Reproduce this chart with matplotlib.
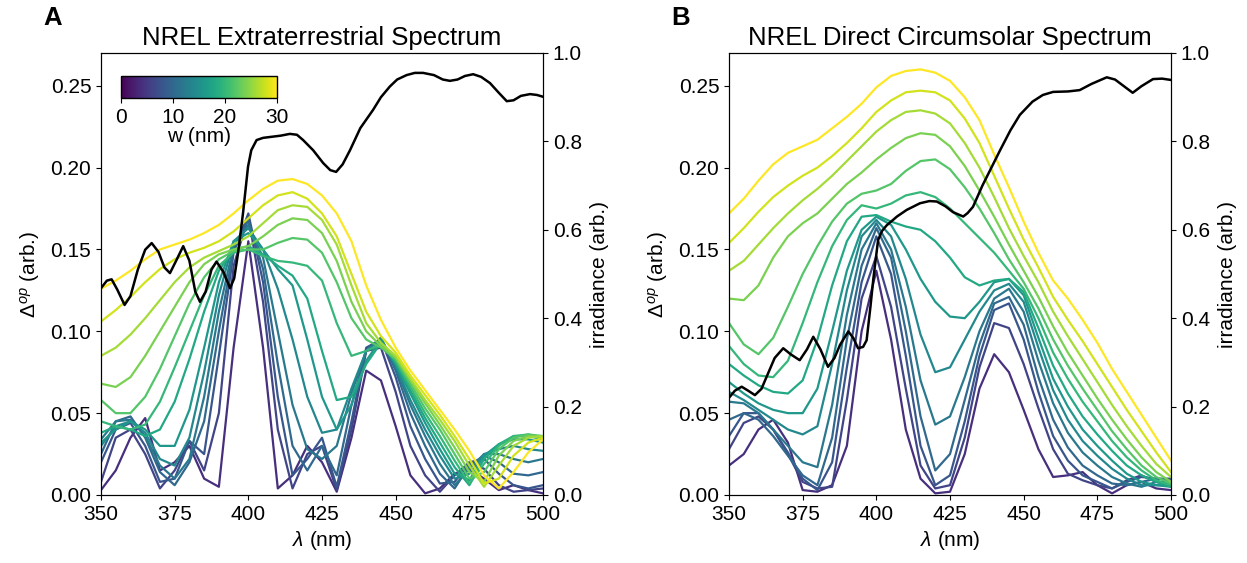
import matplotlib
matplotlib.use('Agg')
import matplotlib.pyplot as plt
from matplotlib import cm, colors
from matplotlib.ticker import FormatStrFormatter

plt.rcParams['font.family'] = ['Liberation Sans', 'DejaVu Sans']
plt.rcParams['mathtext.fontset'] = 'custom'
plt.rcParams['mathtext.rm'] = 'Liberation Sans'
plt.rcParams['mathtext.it'] = 'Liberation Sans:italic'
plt.rcParams['font.size'] = 15

# ---------------- data ----------------
wavelength = [350, 355, 360, 365, 370, 375, 380, 385, 390, 395, 400, 405, 410, 415, 420,
              425, 430, 435, 440, 445, 450, 455, 460, 465, 470, 475, 480, 485, 490, 495, 500]
widths = [4, 6, 8, 10, 12, 14, 16, 18, 20, 22, 24, 26, 28, 30]

# Panel A: NREL Extraterrestrial
A4 = [0.003,0.015,0.035,0.047,0.015,0.020,0.030,0.010,0.005,0.090,0.155,0.090,0.004,0.012,0.030,0.020,0.002,0.035,0.076,0.070,0.042,0.012,0.001,0.004,0.013,0.016,0.010,0.003,0.006,0.003,0.001]
A6 = [0.008,0.035,0.040,0.025,0.004,0.015,0.033,0.015,0.050,0.140,0.170,0.118,0.040,0.004,0.025,0.030,0.003,0.040,0.088,0.090,0.063,0.030,0.012,0.002,0.012,0.020,0.016,0.006,0.002,0.003,0.004]
A8 = [0.020,0.040,0.044,0.030,0.008,0.010,0.033,0.025,0.085,0.148,0.172,0.130,0.060,0.012,0.022,0.035,0.005,0.045,0.090,0.095,0.072,0.042,0.022,0.007,0.008,0.020,0.022,0.013,0.006,0.004,0.006]
A10 = [0.025,0.045,0.048,0.035,0.014,0.006,0.020,0.045,0.100,0.150,0.168,0.138,0.080,0.030,0.015,0.030,0.012,0.055,0.088,0.096,0.076,0.050,0.030,0.013,0.004,0.018,0.024,0.020,0.013,0.012,0.014]
A12 = [0.034,0.045,0.046,0.036,0.018,0.010,0.022,0.060,0.112,0.152,0.165,0.145,0.100,0.055,0.028,0.022,0.030,0.062,0.088,0.096,0.078,0.055,0.036,0.019,0.006,0.016,0.025,0.025,0.022,0.020,0.022]
A14 = [0.030,0.042,0.045,0.038,0.022,0.018,0.035,0.075,0.122,0.155,0.163,0.150,0.126,0.095,0.060,0.038,0.040,0.065,0.088,0.095,0.079,0.058,0.040,0.024,0.010,0.013,0.025,0.028,0.030,0.028,0.027]
A16 = [0.032,0.040,0.045,0.040,0.030,0.030,0.052,0.090,0.130,0.155,0.160,0.150,0.138,0.128,0.095,0.060,0.040,0.055,0.082,0.095,0.080,0.062,0.044,0.028,0.013,0.009,0.024,0.031,0.034,0.034,0.032]
A18 = [0.038,0.042,0.040,0.036,0.040,0.057,0.083,0.112,0.137,0.150,0.152,0.147,0.140,0.134,0.120,0.088,0.058,0.060,0.080,0.093,0.081,0.064,0.047,0.032,0.017,0.006,0.022,0.031,0.036,0.036,0.034]
A20 = [0.045,0.042,0.040,0.043,0.057,0.078,0.100,0.122,0.140,0.148,0.150,0.146,0.143,0.142,0.140,0.131,0.105,0.085,0.088,0.092,0.082,0.066,0.050,0.036,0.021,0.007,0.019,0.030,0.036,0.037,0.035]
A22 = [0.058,0.050,0.050,0.060,0.077,0.097,0.117,0.133,0.144,0.149,0.150,0.150,0.154,0.157,0.156,0.148,0.130,0.108,0.095,0.090,0.083,0.068,0.053,0.040,0.025,0.010,0.014,0.028,0.035,0.037,0.036]
A24 = [0.068,0.066,0.072,0.085,0.100,0.115,0.130,0.141,0.147,0.150,0.152,0.158,0.165,0.169,0.168,0.160,0.143,0.118,0.100,0.091,0.084,0.070,0.056,0.043,0.029,0.014,0.008,0.024,0.033,0.036,0.036]
A26 = [0.085,0.090,0.098,0.108,0.119,0.130,0.139,0.145,0.149,0.153,0.158,0.166,0.174,0.177,0.176,0.168,0.153,0.128,0.105,0.093,0.085,0.071,0.058,0.046,0.033,0.018,0.005,0.018,0.030,0.035,0.036]
A28 = [0.106,0.113,0.121,0.130,0.138,0.144,0.148,0.151,0.155,0.161,0.169,0.177,0.183,0.185,0.181,0.172,0.158,0.135,0.112,0.097,0.087,0.073,0.061,0.049,0.036,0.022,0.007,0.010,0.024,0.032,0.035]
A30 = [0.126,0.131,0.137,0.144,0.150,0.153,0.156,0.160,0.165,0.172,0.180,0.187,0.192,0.193,0.190,0.183,0.172,0.155,0.128,0.107,0.090,0.076,0.064,0.052,0.040,0.027,0.012,0.004,0.014,0.026,0.034]

# Panel B: NREL Direct Circumsolar
B4 = [0.018,0.025,0.040,0.046,0.032,0.003,0.002,0.006,0.030,0.100,0.137,0.095,0.040,0.010,0.001,0.002,0.025,0.065,0.086,0.075,0.052,0.028,0.011,0.012,0.014,0.006,0.001,0.006,0.008,0.004,0.003]
B6 = [0.028,0.044,0.048,0.040,0.025,0.008,0.004,0.005,0.058,0.120,0.146,0.115,0.065,0.018,0.004,0.006,0.035,0.078,0.105,0.102,0.080,0.053,0.028,0.013,0.009,0.006,0.004,0.009,0.012,0.008,0.006]
B8 = [0.036,0.050,0.050,0.040,0.026,0.010,0.003,0.020,0.078,0.130,0.158,0.135,0.085,0.030,0.006,0.012,0.045,0.085,0.113,0.117,0.095,0.063,0.036,0.021,0.012,0.008,0.004,0.008,0.011,0.010,0.010]
B10 = [0.046,0.050,0.046,0.036,0.024,0.012,0.006,0.035,0.095,0.140,0.163,0.145,0.100,0.048,0.015,0.025,0.058,0.092,0.117,0.121,0.104,0.072,0.046,0.029,0.018,0.012,0.007,0.006,0.008,0.010,0.009]
B12 = [0.057,0.056,0.050,0.040,0.030,0.020,0.017,0.055,0.110,0.150,0.166,0.150,0.115,0.070,0.043,0.048,0.072,0.100,0.120,0.126,0.112,0.082,0.056,0.038,0.026,0.018,0.011,0.007,0.005,0.008,0.008]
B14 = [0.063,0.058,0.052,0.046,0.040,0.037,0.042,0.080,0.125,0.158,0.168,0.158,0.132,0.098,0.075,0.078,0.095,0.112,0.125,0.129,0.118,0.090,0.064,0.046,0.033,0.024,0.016,0.010,0.006,0.006,0.006]
B16 = [0.069,0.062,0.056,0.052,0.050,0.050,0.065,0.100,0.137,0.162,0.170,0.165,0.150,0.132,0.118,0.109,0.108,0.118,0.130,0.132,0.122,0.096,0.071,0.054,0.040,0.030,0.021,0.013,0.008,0.006,0.005]
B18 = [0.080,0.073,0.067,0.063,0.062,0.070,0.095,0.128,0.155,0.170,0.171,0.167,0.164,0.162,0.155,0.145,0.133,0.128,0.131,0.132,0.124,0.102,0.079,0.062,0.048,0.037,0.027,0.018,0.012,0.008,0.005]
B20 = [0.091,0.080,0.073,0.072,0.082,0.105,0.130,0.152,0.168,0.177,0.175,0.178,0.183,0.185,0.182,0.175,0.166,0.157,0.148,0.137,0.126,0.108,0.087,0.071,0.057,0.045,0.033,0.023,0.015,0.009,0.006]
B22 = [0.105,0.092,0.086,0.096,0.115,0.135,0.152,0.167,0.178,0.184,0.186,0.190,0.198,0.204,0.205,0.199,0.188,0.175,0.160,0.144,0.130,0.114,0.095,0.079,0.065,0.052,0.039,0.028,0.018,0.011,0.007]
B24 = [0.120,0.119,0.128,0.145,0.158,0.166,0.172,0.181,0.190,0.197,0.205,0.212,0.218,0.221,0.220,0.213,0.201,0.186,0.170,0.153,0.137,0.121,0.103,0.087,0.073,0.059,0.046,0.034,0.023,0.014,0.008]
B26 = [0.137,0.143,0.153,0.163,0.172,0.180,0.187,0.195,0.204,0.213,0.222,0.229,0.234,0.235,0.233,0.227,0.215,0.200,0.182,0.163,0.146,0.130,0.112,0.097,0.083,0.069,0.055,0.042,0.030,0.019,0.011]
B28 = [0.154,0.163,0.173,0.182,0.189,0.195,0.200,0.207,0.215,0.224,0.234,0.241,0.246,0.247,0.246,0.241,0.230,0.215,0.195,0.175,0.156,0.139,0.121,0.107,0.094,0.080,0.066,0.052,0.039,0.026,0.014]
B30 = [0.172,0.181,0.192,0.202,0.209,0.213,0.217,0.224,0.231,0.239,0.249,0.256,0.259,0.260,0.258,0.253,0.243,0.229,0.208,0.188,0.167,0.148,0.131,0.120,0.107,0.093,0.077,0.063,0.049,0.035,0.021]

# irradiance spectra (black lines)
irrA_wl = [350, 352, 353.6, 355.5, 358, 360, 362.5, 365, 367.2, 369.5, 371.5, 373.4, 375.5,
           377.9, 380, 382, 383.6, 385.5, 387.5, 389.2, 391.5, 393.8, 395.2, 396.5, 398.2,
           399.9, 401, 402.8, 405, 407.4, 411, 414.1, 416.5, 418.6, 422, 425.4, 427.8, 429.8,
           432, 434.5, 438, 442.3, 445, 448, 450.5, 453.7, 456.5, 459.3, 463, 466, 468.4,
           471, 473.5, 476.3, 479, 482, 485, 487.7, 490, 492.5, 495.6, 498, 500]
irrA = [0.468, 0.485, 0.488, 0.465, 0.43, 0.45, 0.51, 0.555, 0.57, 0.55, 0.515, 0.502, 0.53,
        0.563, 0.53, 0.46, 0.437, 0.46, 0.51, 0.528, 0.505, 0.468, 0.49, 0.547, 0.638,
        0.743, 0.78, 0.803, 0.808, 0.81, 0.813, 0.817, 0.815, 0.803, 0.78, 0.751, 0.735, 0.731,
        0.748, 0.78, 0.83, 0.871, 0.9, 0.924, 0.94, 0.95, 0.955, 0.955, 0.95, 0.94, 0.937,
        0.94, 0.948, 0.952, 0.946, 0.932, 0.91, 0.891, 0.893, 0.903, 0.907, 0.905, 0.901]
irrB_wl = [350, 352, 354.3, 356.5, 358.8, 361, 362.8, 365.5, 368.4, 371, 374, 376.5, 378.6,
           381, 383.6, 385.8, 387.7, 390.5, 392.2, 393.8, 395.5, 396.7, 398, 399, 400.6, 402,
           403.5, 407, 410.3, 414.8, 418, 420.5, 423.5, 426, 429.5, 431, 432.8, 436, 439, 442,
           445.5, 448.7, 453, 456.5, 460, 465, 469, 473, 478.2, 481, 484, 487, 490, 493.9,
           497, 500]
irrB = [0.22, 0.236, 0.245, 0.236, 0.226, 0.24, 0.268, 0.31, 0.332, 0.318, 0.305, 0.33, 0.358,
        0.33, 0.29, 0.31, 0.34, 0.37, 0.355, 0.332, 0.335, 0.35, 0.426, 0.49, 0.577, 0.598,
        0.61, 0.63, 0.645, 0.66, 0.665, 0.664, 0.653, 0.64, 0.63, 0.638, 0.652, 0.70, 0.74, 0.78,
        0.825, 0.86, 0.89, 0.905, 0.912, 0.913, 0.916, 0.93, 0.945, 0.94, 0.925, 0.91, 0.925,
        0.941, 0.942, 0.939]

curvesA = [A4, A6, A8, A10, A12, A14, A16, A18, A20, A22, A24, A26, A28, A30]
curvesB = [B4, B6, B8, B10, B12, B14, B16, B18, B20, B22, B24, B26, B28, B30]

titles = ['NREL Extraterrestrial Spectrum', 'NREL Direct Circumsolar Spectrum']
panel_labels = ['A', 'B']
xticks = [350, 375, 400, 425, 450, 475, 500]
yticks = [0.00, 0.05, 0.10, 0.15, 0.20, 0.25]
rticks = [0.0, 0.2, 0.4, 0.6, 0.8, 1.0]
cbar_ticks = [0, 10, 20, 30]

# ---------------- plot ----------------
W, H = 1247, 563
fig = plt.figure(figsize=(W / 100, H / 100), dpi=100)
cmap = plt.get_cmap('viridis')
norm = colors.Normalize(vmin=0, vmax=30)

lefts = [101, 729]
for i, (curves, kwl, kval) in enumerate([(curvesA, irrA_wl, irrA), (curvesB, irrB_wl, irrB)]):
    ax = fig.add_axes([lefts[i] / W, 68 / H, 442 / W, 442 / H])
    for w, vals in zip(widths, curves):
        ax.plot(wavelength, vals, color=cmap(norm(w)), lw=1.6)
    ax.set_xlim(350, 500)
    ax.set_ylim(0, 0.27)
    ax.set_xticks(xticks)
    ax.set_yticks(yticks)
    ax.yaxis.set_major_formatter(FormatStrFormatter('%.2f'))
    ax.set_xlabel(r'$\lambda$ (nm)', labelpad=4)
    ax.set_ylabel(r'$\mathit{\Delta}^{op}$ (arb.)', labelpad=6)
    ax.set_title(titles[i], fontsize=18.5, pad=6)

    axk = ax.twinx()
    axk.plot(kwl, kval, color='black', lw=1.8)
    axk.set_ylim(0, 1.0)
    axk.set_yticks(rticks)
    axk.yaxis.set_major_formatter(FormatStrFormatter('%.1f'))
    axk.set_ylabel('irradiance (arb.)', labelpad=6)

    fig.text((lefts[i] - 58) / W, 1 - 6 / H, panel_labels[i], fontsize=18.5,
             fontweight='bold', va='top', ha='left')

cax = fig.add_axes([121 / W, 1 - 98 / H, 156 / W, 22 / H])
sm = cm.ScalarMappable(norm=norm, cmap=cmap)
cb = fig.colorbar(sm, cax=cax, orientation='horizontal')
cb.set_ticks(cbar_ticks)
cb.set_label('w (nm)', labelpad=0)
cb.outline.set_linewidth(1.0)

fig.savefig('out.png', dpi=100)
